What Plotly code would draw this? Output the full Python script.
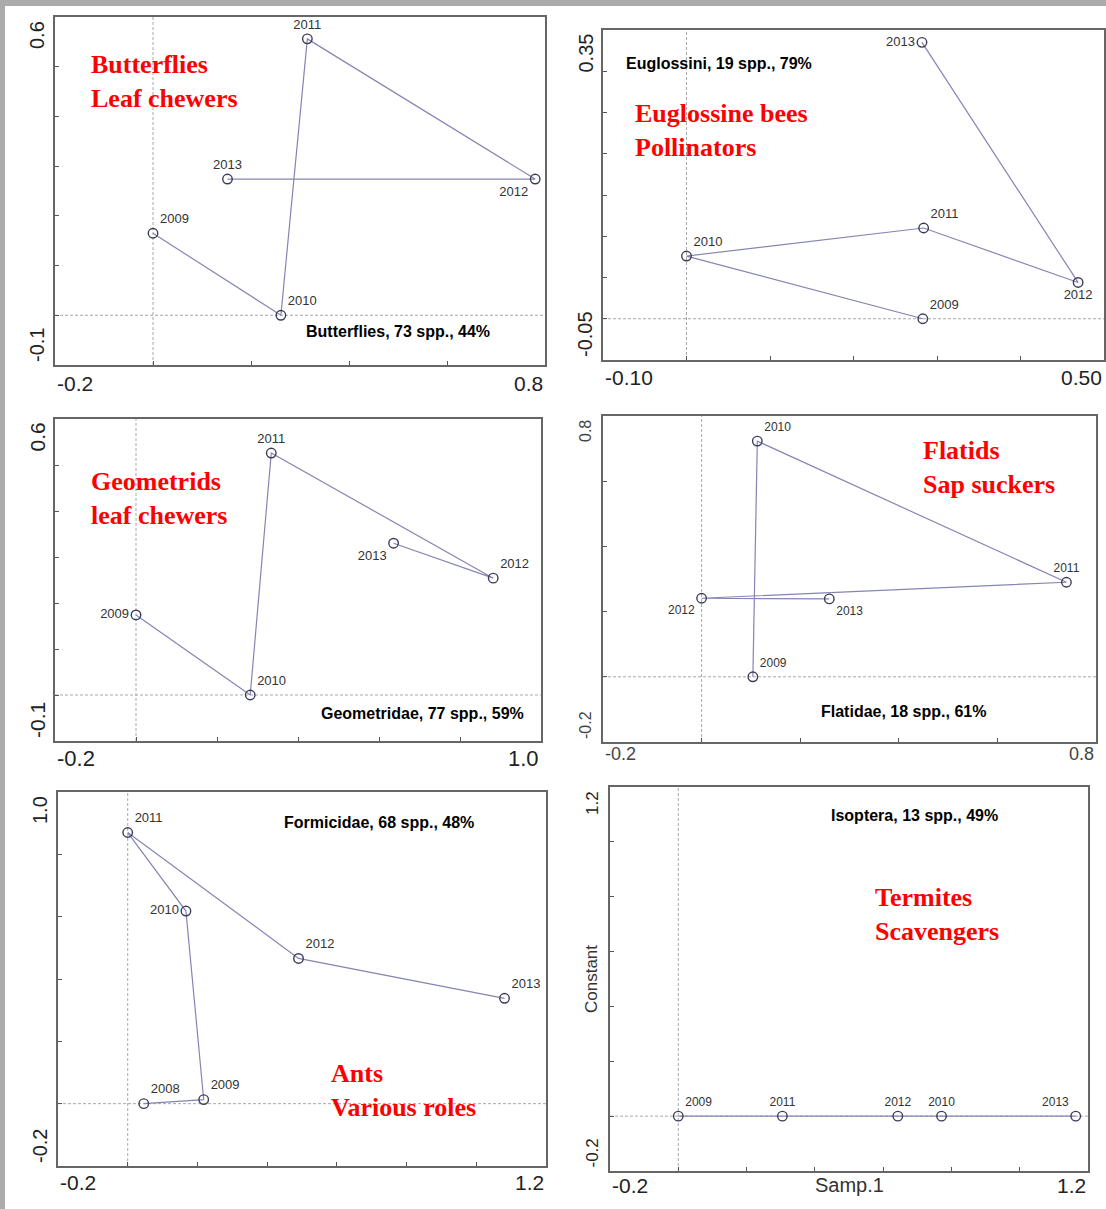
import plotly.graph_objects as go

W, H = 1106, 1209

# ---------------- data ----------------
years_butterflies = ["2009", "2010", "2011", "2012", "2013"]
x_butterflies = [0.0, 0.261, 0.315, 0.780, 0.152]
y_butterflies = [0.165, 0.0, 0.556, 0.274, 0.274]

years_euglossini = ["2009", "2010", "2011", "2012", "2013"]
x_euglossini = [0.283, 0.0, 0.284, 0.469, 0.282]
y_euglossini = [0.0, 0.076, 0.110, 0.044, 0.335]

years_geometridae = ["2009", "2010", "2011", "2012", "2013"]
x_geometridae = [0.0, 0.282, 0.334, 0.882, 0.636]
y_geometridae = [0.174, 0.0, 0.526, 0.254, 0.330]

years_flatidae = ["2009", "2010", "2011", "2012", "2013"]
x_flatidae = [0.104, 0.113, 0.740, 0.0, 0.259]
y_flatidae = [0.0, 0.723, 0.290, 0.241, 0.239]

years_formicidae = ["2008", "2009", "2010", "2011", "2012", "2013"]
x_formicidae = [0.046, 0.218, 0.167, 0.0, 0.490, 1.081]
y_formicidae = [0.0, 0.013, 0.618, 0.870, 0.466, 0.338]

years_isoptera = ["2009", "2010", "2011", "2012", "2013"]
x_isoptera = [0.0, 0.771, 0.305, 0.643, 1.164]
y_isoptera = [0.0, 0.0, 0.0, 0.0, 0.0]

# tick values and end tick labels
xticks_butterflies = [-0.2, 0.0, 0.2, 0.4, 0.6, 0.8]
yticks_butterflies = [-0.1, 0.0, 0.1, 0.2, 0.3, 0.4, 0.5, 0.6]
xticks_euglossini = [-0.10, 0.0, 0.10, 0.20, 0.30, 0.40, 0.50]
yticks_euglossini = [-0.05, 0.0, 0.05, 0.10, 0.15, 0.20, 0.25, 0.30, 0.35]
xticks_geometridae = [-0.2, 0.0, 0.2, 0.4, 0.6, 0.8, 1.0]
yticks_geometridae = [-0.1, 0.0, 0.1, 0.2, 0.3, 0.4, 0.5, 0.6]
xticks_flatidae = [-0.2, 0.0, 0.2, 0.4, 0.6, 0.8]
yticks_flatidae = [-0.2, 0.0, 0.2, 0.4, 0.6, 0.8]
xticks_formicidae = [-0.2, 0.0, 0.2, 0.4, 0.6, 0.8, 1.0, 1.2]
yticks_formicidae = [-0.2, 0.0, 0.2, 0.4, 0.6, 0.8, 1.0]
xticks_isoptera = [-0.2, 0.0, 0.2, 0.4, 0.6, 0.8, 1.0, 1.2]
yticks_isoptera = [-0.2, 0.0, 0.2, 0.4, 0.6, 0.8, 1.0, 1.2]

xlabels_butterflies = ["-0.2", "0.8"]
ylabels_butterflies = ["-0.1", "0.6"]
xlabels_euglossini = ["-0.10", "0.50"]
ylabels_euglossini = ["-0.05", "0.35"]
xlabels_geometridae = ["-0.2", "1.0"]
ylabels_geometridae = ["-0.1", "0.6"]
xlabels_flatidae = ["-0.2", "0.8"]
ylabels_flatidae = ["-0.2", "0.8"]
xlabels_formicidae = ["-0.2", "1.2"]
ylabels_formicidae = ["-0.2", "1.0"]
xlabels_isoptera = ["-0.2", "1.2"]
ylabels_isoptera = ["-0.2", "1.2"]

stats_text = ["Butterflies, 73 spp., 44%", "Euglossini, 19 spp., 79%",
              "Geometridae, 77 spp., 59%", "Flatidae, 18 spp., 61%",
              "Formicidae, 68 spp., 48%", "Isoptera, 13 spp., 49%"]
group_text = ["Butterflies<br>Leaf chewers", "Euglossine bees<br>Pollinators",
              "Geometrids<br>leaf chewers", "Flatids<br>Sap suckers",
              "Ants<br>Various roles", "Termites<br>Scavengers"]

# ---------------- layout / style config ----------------
panels = [
    dict(years=years_butterflies, x=x_butterflies, y=y_butterflies,
         xt=xticks_butterflies, yt=yticks_butterflies,
         xl=xlabels_butterflies, yl=ylabels_butterflies,
         box=(55, 17, 545, 365), xfs=21, yfs=20, xoff=18, tcol="#222",
         pos=["top right", "top right", "top center", "bottom left", "top center"],
         stat=(398, 331), red=(89, 82), lfs=13),
    dict(years=years_euglossini, x=x_euglossini, y=y_euglossini,
         xt=xticks_euglossini, yt=yticks_euglossini,
         xl=xlabels_euglossini, yl=ylabels_euglossini,
         box=(603, 30, 1104, 360), xfs=21, yfs=20, xoff=18, tcol="#222",
         pos=["top right", "top right", "top right", "bottom center", "middle left"],
         stat=(719, 63), red=(633, 130), lfs=13),
    dict(years=years_geometridae, x=x_geometridae, y=y_geometridae,
         xt=xticks_geometridae, yt=yticks_geometridae,
         xl=xlabels_geometridae, yl=ylabels_geometridae,
         box=(55, 419, 541, 741), xfs=22, yfs=21, xoff=17, tcol="#222",
         pos=["middle left", "top right", "top center", "top right", "bottom left"],
         stat=(422, 713), red=(89, 498), lfs=13),
    dict(years=years_flatidae, x=x_flatidae, y=y_flatidae,
         xt=xticks_flatidae, yt=yticks_flatidae,
         xl=xlabels_flatidae, yl=ylabels_flatidae,
         box=(603, 416, 1096, 742), xfs=18, yfs=16, xoff=12, tcol="#444",
         pos=["top right", "top right", "top center", "bottom left", "bottom right"],
         stat=(903, 711), red=(921, 467), lfs=12),
    dict(years=years_formicidae, x=x_formicidae, y=y_formicidae,
         xt=xticks_formicidae, yt=yticks_formicidae,
         xl=xlabels_formicidae, yl=ylabels_formicidae,
         box=(58, 792, 546, 1166), xfs=21, yfs=20, xoff=16, tcol="#222",
         pos=["top right", "top right", "middle left", "top right", "top right", "top right"],
         stat=(379, 822), red=(329, 1090), lfs=13),
    dict(years=years_isoptera, x=x_isoptera, y=y_isoptera,
         xt=xticks_isoptera, yt=yticks_isoptera,
         xl=xlabels_isoptera, yl=ylabels_isoptera,
         box=(610, 787, 1088, 1171), xfs=21, yfs=17, xoff=14, tcol="#222",
         pos=["top right", "top center", "top center", "top center", "top left"],
         stat=(914, 815), red=(873, 914), lfs=12),
]

SANS = "Liberation Sans, Arial, sans-serif"
SERIF = "Liberation Serif, Times New Roman, serif"
LINE_COL = "#8585b5"
MARK_COL = "#3c3c58"
REF_COL = "#a8a8a8"
AX_COL = "#666666"

fig = go.Figure()
layout = dict(width=W, height=H, margin=dict(l=0, r=0, t=0, b=0),
              paper_bgcolor="white", plot_bgcolor="white", showlegend=False)
annotations = []
shapes = []

for i, p in enumerate(panels):
    n = i + 1
    sfx = "" if n == 1 else str(n)
    xa, ya = "x" + sfx, "y" + sfx
    l, t, r, b = p["box"]
    fig.add_trace(go.Scatter(
        x=p["x"], y=p["y"], text=p["years"], mode="lines+markers+text",
        textposition=p["pos"], cliponaxis=False,
        textfont=dict(family=SANS, size=p["lfs"], color="#333"),
        line=dict(color=LINE_COL, width=1.2),
        marker=dict(symbol="circle-open", size=9.5, color=MARK_COL,
                    line=dict(width=1.4, color=MARK_COL)),
        xaxis=xa, yaxis=ya, hoverinfo="skip"))
    common = dict(showgrid=False, zeroline=False, showline=True, mirror=True,
                  linecolor=AX_COL, linewidth=1.6, ticks="inside", ticklen=4,
                  tickwidth=1.3, tickcolor="#555", showticklabels=False)
    layout["xaxis" + sfx] = dict(common, domain=[l / W, r / W],
                                 range=[p["xt"][0], p["xt"][-1]], tickvals=p["xt"],
                                 anchor=ya)
    layout["yaxis" + sfx] = dict(common, domain=[1 - b / H, 1 - t / H],
                                 range=[p["yt"][0], p["yt"][-1]], tickvals=p["yt"],
                                 anchor=xa)
    xd, yd = xa + " domain", ya + " domain"
    # reference lines at zero
    shapes.append(dict(type="line", xref=xa, yref=yd, x0=0, x1=0, y0=0, y1=1,
                       line=dict(color=REF_COL, width=1, dash="3px,2px"), layer="below"))
    shapes.append(dict(type="line", xref=xd, yref=ya, x0=0, x1=1, y0=0, y1=0,
                       line=dict(color=REF_COL, width=1, dash="3px,2px"), layer="below"))
    # end tick labels
    tf_x = dict(family=SANS, size=p["xfs"], color=p["tcol"])
    tf_y = dict(family=SANS, size=p["yfs"], color=p["tcol"])
    annotations += [
        dict(xref=xd, yref=yd, x=0, y=0, text=p["xl"][0], showarrow=False,
             xanchor="left", yanchor="middle", yshift=-p["xoff"], font=tf_x),
        dict(xref=xd, yref=yd, x=1, y=0, text=p["xl"][1], showarrow=False,
             xanchor="right", yanchor="middle", yshift=-p["xoff"], font=tf_x),
        dict(xref=xd, yref=yd, x=0, y=0, text=p["yl"][0], showarrow=False,
             textangle=-90, xanchor="center", yanchor="bottom", xshift=-18, yshift=1,
             font=tf_y),
        dict(xref=xd, yref=yd, x=0, y=1, text=p["yl"][1], showarrow=False,
             textangle=-90, xanchor="center", yanchor="top", xshift=-18, yshift=-2,
             font=tf_y),
    ]
    # stats text
    sx, sy = p["stat"]
    annotations.append(dict(xref="paper", yref="paper", x=sx / W, y=1 - sy / H,
                            text="<b>" + stats_text[i] + "</b>", showarrow=False,
                            xanchor="center", yanchor="middle",
                            font=dict(family=SANS, size=16, color="black")))
    # red group text
    rx, ry = p["red"]
    annotations.append(dict(xref="paper", yref="paper", x=rx / W, y=1 - ry / H,
                            text="<b>" + group_text[i] + "</b>", showarrow=False,
                            xanchor="left", yanchor="middle", align="left",
                            font=dict(family=SERIF, size=26, color="#ff0000")))

# axis titles of the termite panel
annotations.append(dict(xref="x6 domain", yref="y6 domain", x=0.5, y=0, text="Samp.1",
                        showarrow=False, xanchor="center", yanchor="middle", yshift=-14,
                        font=dict(family=SANS, size=20, color="#333")))
annotations.append(dict(xref="x6 domain", yref="y6 domain", x=0, y=0.5, text="Constant",
                        showarrow=False, textangle=-90, xanchor="center",
                        yanchor="middle", xshift=-19,
                        font=dict(family=SANS, size=17, color="#333")))

# grey frame strips (top and left)
shapes.append(dict(type="rect", xref="paper", yref="paper", x0=0, x1=1,
                   y0=1 - 6 / H, y1=1, fillcolor="#ababab", line=dict(width=0),
                   layer="above"))
shapes.append(dict(type="rect", xref="paper", yref="paper", x0=0, x1=5 / W,
                   y0=0, y1=1, fillcolor="#ababab", line=dict(width=0), layer="above"))

layout["annotations"] = annotations
layout["shapes"] = shapes
fig.update_layout(**layout)

fig.write_html("out.html", config={"displayModeBar": False},
               post_script="document.body.style.margin='0';document.body.style.overflow='hidden';")
